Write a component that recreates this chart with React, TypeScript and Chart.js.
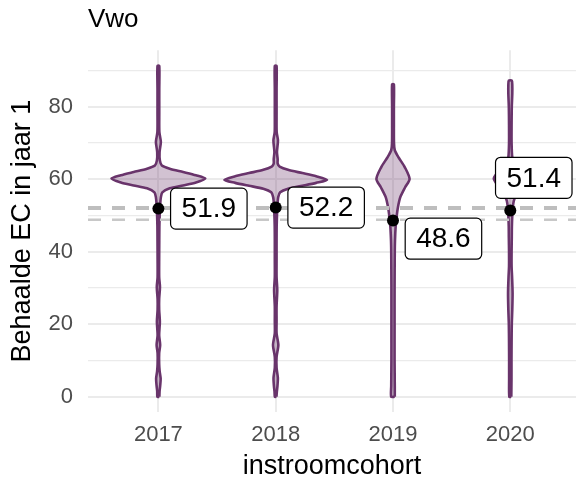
import React, { useEffect, useRef } from 'react';
import { Chart, registerables } from 'chart.js';

Chart.register(...registerables);

// ---- data ----
const cohorts = ['2017', '2018', '2019', '2020'];
const means = [51.9, 52.2, 48.6, 51.4];
const meanLabels = ['51.9', '52.2', '48.6', '51.4'];
const labelX = [1.43, 2.43, 3.43, 4.2];
const labelY = [51.9, 52.2, 43.6, 60.4];
const refLineThick = 52.1;
const refLineThin = 48.8;
const yTickValues = [0, 10, 20, 30, 40, 50, 60, 70, 80, 90];

// violin outlines: EC values and half-width (density, in px-equivalent)
const violinY2017 = [0, 1.5, 3, 5, 7, 9, 12, 14.3, 17, 20.7, 24, 27, 30.3, 33, 38, 43, 47, 50, 53, 55, 56.4, 57.5, 58.3, 59.1, 60.2, 61.1, 62, 62.9, 63.8, 65.2, 67.5, 70.3, 73, 78, 85, 91.3];
const violinW2017 = [1, 1.2, 1.8, 2.3, 1.3, 0.8, 0.8, 1.8, 0.8, 1.5, 0.8, 0.8, 1.6, 0.8, 0.8, 0.9, 1, 1.3, 1.8, 2.5, 4, 11.5, 25, 38, 47.5, 38, 25, 11.5, 3.5, 1.5, 1.2, 2.5, 1, 0.9, 0.9, 0.9];

const violinY2018 = [0, 1.5, 3, 5.2, 8, 11, 14.3, 17.5, 21, 25, 29.4, 33, 38, 43, 47, 50, 53, 55, 56.4, 57.4, 58.2, 59, 59.8, 60.8, 61.7, 62.6, 63.5, 64.3, 65.5, 67.5, 70.7, 73, 78, 85, 91.3];
const violinW2018 = [0.8, 1.2, 1.8, 2.2, 0.9, 0.9, 2.7, 0.9, 0.9, 0.9, 1.6, 0.9, 0.9, 0.9, 1, 1.3, 1.8, 2.5, 4.5, 12.5, 27, 41, 52, 41, 27, 12.5, 4, 2, 2, 1.3, 2.3, 1, 0.9, 0.9, 0.9];

const violinY2019 = [0, 3, 10, 20, 30, 40, 43, 47, 50, 52.3, 55, 57.8, 60.1, 63.3, 66, 68, 70, 75, 80, 86.2];
const violinW2019 = [1.8, 1.8, 1.6, 1.6, 1.6, 1.8, 2, 2.7, 3.8, 5, 7.3, 12.3, 16.8, 12, 5.7, 1.8, 1, 0.9, 0.9, 0.9];

const violinY2020 = [0, 5, 10, 15, 20, 24, 28.6, 33, 36, 40, 44, 47, 50, 52, 54, 56, 58, 60.1, 61.5, 63, 64.5, 66, 70, 75, 80, 83.5, 86, 87.2];
const violinW2020 = [1, 1.2, 1.2, 1.3, 1.5, 2, 2.3, 1.8, 1.3, 1.3, 1.5, 1.6, 2, 2.5, 3.5, 6.5, 12, 16.7, 14, 8, 4, 2, 1.3, 1.3, 1.5, 2, 2, 1.5];

const violinYs = [violinY2017, violinY2018, violinY2019, violinY2020];
const violinWs = [violinW2017, violinW2018, violinW2019, violinW2020];
const densityScale = 1 / 118.75; // density units -> category units

const X_MIN = 0.4;
const X_MAX = 4.56;
const Y_MIN = -4.2;
const Y_MAX = 95.6;

const FONT = '"Liberation Sans", Arial, Helvetica, sans-serif';
const VIOLIN_LINE = '#69346b';
const VIOLIN_FILL = 'rgba(105, 52, 107, 0.3)';

function violinPolygon(center: number, ys: number[], ws: number[]) {
  const right = ys.map((y, i) => ({ x: center + ws[i] * densityScale, y }));
  const left = ys.map((y, i) => ({ x: center - ws[i] * densityScale, y })).reverse();
  return [...right, ...left, right[0]];
}

const labelPlugin = {
  id: 'meanLabels',
  afterDatasetsDraw(chart: any) {
    const { ctx, scales } = chart;
    const xs = scales.x;
    const ys = scales.y;
    ctx.save();
    ctx.font = `28px ${FONT}`;
    meanLabels.forEach((t, i) => {
      const cx = xs.getPixelForValue(labelX[i]);
      const cy = ys.getPixelForValue(labelY[i]);
      const tw = ctx.measureText(t).width;
      const w = tw + 22;
      const h = 41;
      ctx.beginPath();
      ctx.roundRect(cx - w / 2, cy - h / 2, w, h, 5);
      ctx.fillStyle = '#ffffff';
      ctx.fill();
      ctx.lineWidth = 1.2;
      ctx.strokeStyle = '#000000';
      ctx.stroke();
      ctx.fillStyle = '#000000';
      ctx.textAlign = 'center';
      ctx.textBaseline = 'middle';
      ctx.fillText(t, cx, cy + 1);
    });
    ctx.restore();
  },
};

export default function App() {
  const canvasRef = useRef<HTMLCanvasElement | null>(null);

  useEffect(() => {
    if (!canvasRef.current) return;
    Chart.defaults.font.family = FONT;

    const violinDatasets = cohorts.map((c, i) => ({
      label: `violin ${c}`,
      data: violinPolygon(i + 1, violinYs[i], violinWs[i]),
      showLine: true,
      fill: 'shape',
      backgroundColor: VIOLIN_FILL,
      borderColor: VIOLIN_LINE,
      borderWidth: 2.6,
      pointRadius: 0,
      tension: 0.25,
      order: 3,
    }));

    const refDatasets = [
      {
        label: 'ref thick',
        data: [{ x: X_MIN, y: refLineThick }, { x: X_MAX, y: refLineThick }],
        showLine: true,
        borderColor: '#bebebe',
        borderWidth: 4,
        borderDash: [13, 11],
        pointRadius: 0,
        fill: false,
        order: 2,
      },
      {
        label: 'ref thin',
        data: [{ x: X_MIN, y: refLineThin }, { x: X_MAX, y: refLineThin }],
        showLine: true,
        borderColor: '#c8c8c8',
        borderWidth: 2.5,
        borderDash: [13, 11],
        pointRadius: 0,
        fill: false,
        order: 2,
      },
    ];

    const pointDataset = {
      label: 'mean',
      data: means.map((m, i) => ({ x: i + 1, y: m })),
      showLine: false,
      pointRadius: 6,
      pointBackgroundColor: '#000000',
      pointBorderWidth: 0,
      order: 1,
    };

    const chart = new Chart(canvasRef.current, {
      type: 'scatter',
      data: { datasets: [...violinDatasets, ...refDatasets, pointDataset] as any },
      options: {
        animation: false,
        responsive: false,
        events: [],
        layout: { padding: 0 },
        plugins: {
          legend: { display: false },
          tooltip: { enabled: false },
          title: {
            display: true,
            text: 'Vwo',
            align: 'start',
            fullSize: false,
            color: '#000000',
            font: { size: 26, weight: 'normal', family: FONT },
            padding: { top: 4, bottom: 15 },
          },
        },
        scales: {
          x: {
            type: 'linear',
            min: X_MIN,
            max: X_MAX,
            afterBuildTicks: (scale: any) => {
              scale.ticks = cohorts.map((_, i) => ({ value: i + 1 }));
            },
            afterFit: (scale: any) => {
              scale.height = 71;
            },
            ticks: {
              autoSkip: false,
              maxRotation: 0,
              padding: 10,
              color: '#4d4d4d',
              font: { size: 22, family: FONT },
              callback: (v: any) => cohorts[Math.round(Number(v)) - 1] ?? '',
            },
            grid: { color: '#ebebeb', lineWidth: 2, drawTicks: false },
            border: { display: false },
            title: {
              display: true,
              text: 'instroomcohort',
              color: '#000000',
              font: { size: 27, family: FONT },
              padding: { top: 0, bottom: 0 },
            },
          },
          y: {
            type: 'linear',
            min: Y_MIN,
            max: Y_MAX,
            afterBuildTicks: (scale: any) => {
              scale.ticks = yTickValues.map((v) => ({ value: v }));
            },
            afterFit: (scale: any) => {
              scale.width = 88;
            },
            ticks: {
              autoSkip: false,
              padding: 15,
              color: '#4d4d4d',
              font: { size: 22, family: FONT },
              callback: (v: any) => (Number(v) % 20 === 0 ? String(v) : ''),
            },
            grid: {
              color: '#ebebeb',
              lineWidth: (ctx: any) => (ctx.tick && ctx.tick.value % 20 === 0 ? 2 : 1.2),
              drawTicks: false,
            },
            border: { display: false },
            title: {
              display: true,
              text: 'Behaalde EC in jaar 1',
              color: '#000000',
              font: { size: 27, family: FONT },
              padding: { top: 6, bottom: 0 },
            },
          },
        },
      },
      plugins: [labelPlugin],
    });

    return () => chart.destroy();
  }, []);

  return (
    <div style={{ position: 'fixed', left: 0, top: 0, width: 582, height: 483, background: '#ffffff' }}>
      <canvas ref={canvasRef} width={582} height={483} style={{ display: 'block' }} />
    </div>
  );
}
